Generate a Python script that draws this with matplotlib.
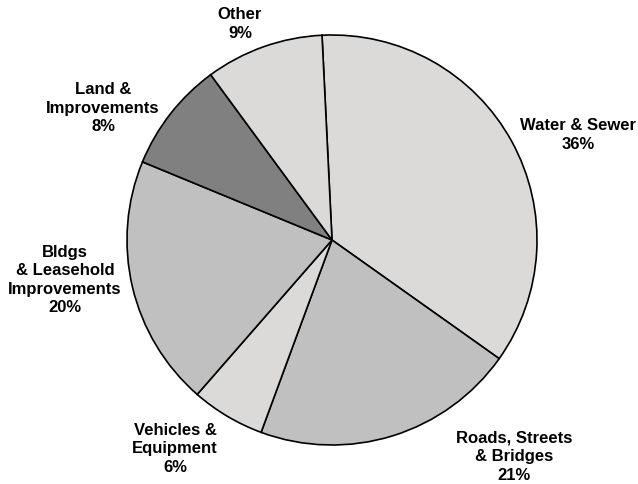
import matplotlib.pyplot as plt

# share of capital assets by category (slice sizes)
categories = ["Water & Sewer", "Roads, Streets\n& Bridges", "Vehicles &\nEquipment",
              "Bldgs\n& Leasehold\nImprovements", "Land &\nImprovements", "Other"]
shares = [35.6, 20.8, 5.8, 19.8, 8.7, 9.3]
pct_labels = ["36%", "21%", "6%", "20%", "8%", "9%"]

colors = ["#dbdad8", "#c0c0c0", "#dbdad8", "#c0c0c0", "#808080", "#dbdad8"]

# label block centres in pixel units (x, y from top)
label_pos = [(578, 135), (514, 457), (175, 449), (65, 280), (103, 108), (240, 24)]

W, H = 638, 484
fig = plt.figure(figsize=(W / 100, H / 100), dpi=100)
ax = fig.add_axes([0, 0, 1, 1])

ax.pie(shares, colors=colors, startangle=92.8, counterclock=False,
       center=(332, H - 240), radius=205, frame=True,
       wedgeprops=dict(edgecolor="black", linewidth=1.2))
ax.set_xlim(0, W)
ax.set_ylim(0, H)
ax.set_aspect("auto")
ax.axis("off")

for name, pct, (x, y) in zip(categories, pct_labels, label_pos):
    ax.text(x, H - y, name + "\n" + pct, ha="center", va="center",
            fontsize=12, fontweight="bold", family="Liberation Sans",
            linespacing=1.3)

fig.savefig("out.png", dpi=100)
